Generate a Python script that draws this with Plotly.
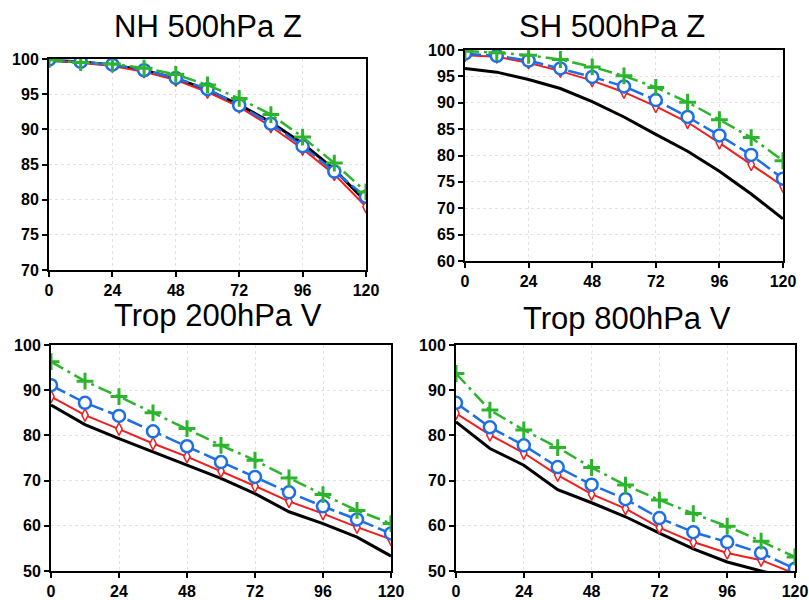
import plotly.graph_objects as go

hours = [0, 12, 24, 36, 48, 60, 72, 84, 96, 108, 120]
x_ticks = [0, 24, 48, 72, 96, 120]

titles = ["NH 500hPa Z", "SH 500hPa Z", "Trop 200hPa V", "Trop 800hPa V"]

# NH 500hPa Z
nh_black = [99.8, 99.6, 99.15, 98.4, 97.25, 95.6, 93.5, 91.0, 88.0, 84.3, 79.7]
nh_red   = [99.9, 99.5, 99.0, 98.2, 97.0, 95.3, 93.2, 90.4, 87.2, 83.6, 79.0]
nh_blue  = [99.9, 99.6, 99.2, 98.4, 97.3, 95.7, 93.4, 90.8, 87.6, 84.0, 80.4]
nh_green = [99.9, 99.5, 99.3, 98.7, 97.8, 96.3, 94.4, 92.1, 88.9, 85.2, 81.1]

# SH 500hPa Z
sh_black = [96.5, 95.8, 94.4, 92.7, 90.2, 87.3, 84.0, 80.8, 77.0, 72.7, 68.0]
sh_red   = [99.0, 98.7, 97.6, 96.0, 94.2, 92.0, 89.3, 86.3, 82.4, 78.3, 74.2]
sh_blue  = [99.3, 98.9, 98.0, 96.5, 94.9, 93.1, 90.5, 87.3, 83.8, 80.1, 75.6]
sh_green = [99.8, 99.5, 99.0, 98.2, 96.8, 95.1, 92.9, 90.1, 86.8, 83.4, 79.0]

# Trop 200hPa V
t2_black = [86.7, 82.4, 79.3, 76.4, 73.4, 70.5, 67.1, 63.1, 60.5, 57.5, 53.3]
t2_red   = [88.6, 84.5, 81.4, 78.2, 75.3, 72.1, 68.8, 65.4, 62.7, 59.7, 57.0]
t2_blue  = [91.1, 87.2, 84.3, 80.9, 77.6, 74.1, 70.8, 67.4, 64.3, 61.4, 58.3]
t2_green = [96.3, 92.0, 88.6, 85.0, 81.5, 77.8, 74.5, 70.6, 66.9, 63.4, 60.5]

# Trop 800hPa V
t8_black = [83.0, 77.1, 73.4, 68.0, 65.1, 62.0, 58.4, 54.9, 52.0, 50.0, 48.3]
t8_red   = [84.9, 80.1, 76.1, 71.2, 67.0, 63.8, 59.6, 56.4, 54.0, 52.4, 49.4]
t8_blue  = [87.2, 81.8, 77.8, 73.0, 69.1, 65.9, 61.7, 58.6, 56.4, 54.0, 50.5]
t8_green = [93.7, 85.6, 81.2, 77.3, 72.9, 69.0, 65.7, 62.7, 59.9, 56.6, 53.1]

panels = [
    (nh_black, nh_red, nh_blue, nh_green),
    (sh_black, sh_red, sh_blue, sh_green),
    (t2_black, t2_red, t2_blue, t2_green),
    (t8_black, t8_red, t8_blue, t8_green),
]
y_ranges = [(70, 100, 5), (60, 100, 5), (50, 100, 10), (50, 100, 10)]

W, H = 809, 600
# plot areas in pixels: (left, right, top, bottom)
boxes = [(49, 366, 59, 270), (465, 783, 50, 261), (51, 391, 345, 571), (456, 795, 345, 571)]
# title positions in pixels (center x, cap-middle y)
title_pos = [(208, 26), (612, 26), (218, 316), (627, 318)]

RED = "#f01e1e"
BLUE = "#1e6ee6"
GREEN = "#2db42d"

fig = go.Figure()
layout = dict(
    width=W, height=H, margin=dict(l=0, r=0, t=0, b=0, autoexpand=False),
    paper_bgcolor="white", plot_bgcolor="white", showlegend=False,
)
annotations = []
for i, (series, (y0, y1, dy), box) in enumerate(zip(panels, y_ranges, boxes)):
    n = "" if i == 0 else str(i + 1)
    xa, ya = "x" + n, "y" + n
    l, r, t, b = box
    black, red, blue, green = series
    fig.add_trace(go.Scatter(x=hours, y=black, xaxis=xa, yaxis=ya, mode="lines",
                             line=dict(color="black", width=3)))
    fig.add_trace(go.Scatter(x=hours, y=red, xaxis=xa, yaxis=ya, mode="lines+markers",
                             line=dict(color=RED, width=2),
                             marker=dict(symbol="diamond-tall", size=9, color="white",
                                         line=dict(color=RED, width=1.5))))
    fig.add_trace(go.Scatter(x=hours, y=blue, xaxis=xa, yaxis=ya, mode="lines+markers",
                             line=dict(color=BLUE, width=2.5, dash="16px,5px"),
                             marker=dict(symbol="circle", size=12, color="white",
                                         line=dict(color=BLUE, width=2.5))))
    fig.add_trace(go.Scatter(x=hours, y=green, xaxis=xa, yaxis=ya, mode="lines+markers",
                             line=dict(color=GREEN, width=2.5, dash="14px,5px,3px,5px"),
                             marker=dict(symbol="cross-thin", size=12, color=GREEN,
                                         line=dict(color=GREEN, width=3))))
    axis_common = dict(
        showline=True, linecolor="black", linewidth=2, mirror=True,
        ticks="outside", ticklen=5, tickwidth=1.5, tickcolor="black",
        showgrid=True, gridcolor="#e2e2e2", gridwidth=1, griddash="dot",
        zeroline=False, automargin=False,
        tickfont=dict(family="Liberation Sans", size=16, color="black", weight="bold"),
    )
    layout["xaxis" + n] = dict(
        axis_common, domain=[l / W, r / W], anchor=ya, range=[0, 120],
        tickmode="array", tickvals=x_ticks, ticktext=[str(v) for v in x_ticks],
    )
    yt = list(range(y0, y1 + 1, dy))
    layout["yaxis" + n] = dict(
        axis_common, domain=[1 - b / H, 1 - t / H], anchor=xa, range=[y0, y1],
        tickmode="array", tickvals=yt, ticktext=[str(v) for v in yt],
    )
    cx, cy = title_pos[i]
    annotations.append(dict(
        text=titles[i], x=cx / W, y=1 - cy / H, xref="paper", yref="paper",
        xanchor="center", yanchor="middle", showarrow=False,
        font=dict(family="Liberation Sans", size=31, color="black"),
    ))
layout["annotations"] = annotations
fig.update_layout(**layout)
fig.write_html(
    "out.html",
    config={"displayModeBar": False},
    post_script="document.body.style.margin='0';document.body.style.overflow='hidden';",
)
